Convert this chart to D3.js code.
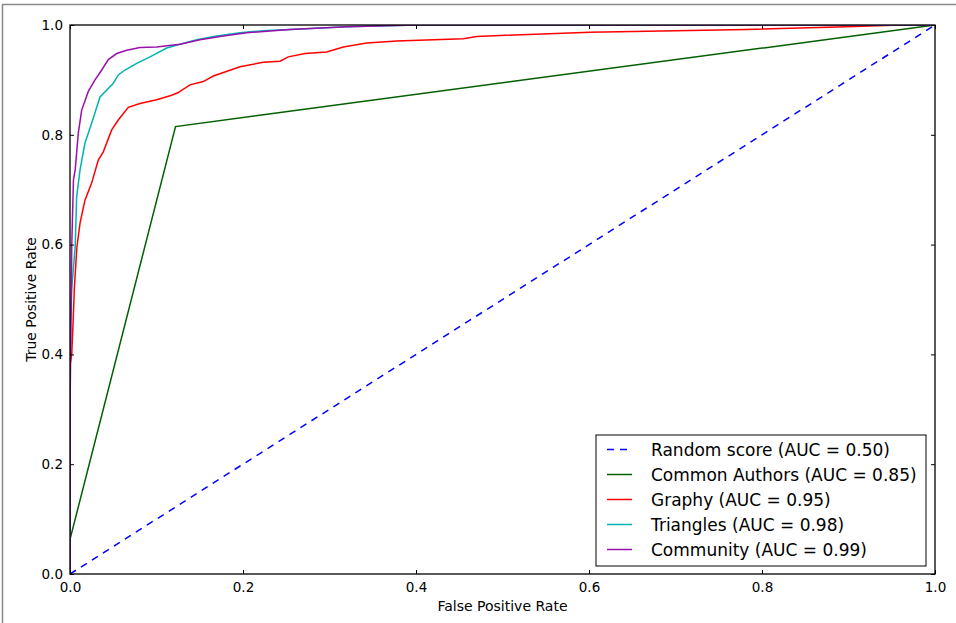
<!DOCTYPE html>
<html>
<head>
<meta charset="utf-8">
<script src="https://cdn.jsdelivr.net/npm/d3@7"></script>
<style>
  body { margin: 0; background: #fff; }
  svg { display: block; font-family: "DejaVu Sans", sans-serif; }
</style>
</head>
<body>
<div id="chart"></div>
<script>
// ROC curves, values
var randomFpr = [0, 1];
var randomTpr = [0, 1];

var authorsFpr = [0, 0, 0.122, 1];
var authorsTpr = [0, 0.063, 0.815, 1];

var graphyFpr = [0, 0, 0.002, 0.004, 0.005, 0.008, 0.0116, 0.0173, 0.025, 0.0327, 0.0385, 0.0482, 0.0558, 0.0674, 0.0809, 0.1002, 0.1176, 0.1252, 0.1387, 0.1541, 0.1657, 0.1965, 0.2235, 0.2428, 0.2524, 0.2717, 0.2968, 0.316, 0.343, 0.3777, 0.4547, 0.4702, 0.4971, 0.6012, 0.7823, 0.8979, 0.96, 1];
var graphyTpr = [0, 0.38, 0.40, 0.475, 0.52, 0.596, 0.639, 0.681, 0.712, 0.754, 0.769, 0.809, 0.827, 0.850, 0.857, 0.864, 0.872, 0.877, 0.891, 0.897, 0.907, 0.924, 0.932, 0.934, 0.942, 0.948, 0.951, 0.960, 0.967, 0.971, 0.975, 0.979, 0.981, 0.987, 0.992, 0.997, 1, 1];

var trianglesFpr = [0, 0, 0.002, 0.006, 0.0077, 0.0116, 0.0173, 0.025, 0.0347, 0.0501, 0.0558, 0.0636, 0.0771, 0.0925, 0.1118, 0.1272, 0.1465, 0.1696, 0.1965, 0.2274, 0.2543, 0.32, 0.4, 1];
var trianglesTpr = [0, 0.45, 0.52, 0.596, 0.687, 0.736, 0.785, 0.821, 0.869, 0.894, 0.909, 0.918, 0.930, 0.942, 0.958, 0.965, 0.973, 0.980, 0.986, 0.990, 0.992, 0.997, 1, 1];

var communityFpr = [0, 0, 0.0015, 0.002, 0.003, 0.004, 0.006, 0.0096, 0.0135, 0.0212, 0.0289, 0.0367, 0.0443, 0.054, 0.0656, 0.0809, 0.1002, 0.1272, 0.1503, 0.1773, 0.2043, 0.2543, 0.32, 0.4, 1];
var communityTpr = [0, 0.3, 0.5, 0.596, 0.657, 0.718, 0.736, 0.803, 0.845, 0.879, 0.900, 0.918, 0.937, 0.948, 0.954, 0.959, 0.960, 0.965, 0.973, 0.980, 0.986, 0.992, 0.997, 1, 1];

var seriesNames = ["Random score (AUC = 0.50)", "Common Authors (AUC = 0.85)", "Graphy (AUC = 0.95)", "Triangles (AUC = 0.98)", "Community (AUC = 0.99)"];
var seriesColors = ["#0000ff", "#005f00", "#ff0000", "#00b3b3", "#9a10ac"];
var tickValues = [0, 0.2, 0.4, 0.6, 0.8, 1.0];

var series = [
    {fpr: randomFpr, tpr: randomTpr, dash: "7,6"},
    {fpr: authorsFpr, tpr: authorsTpr},
    {fpr: graphyFpr, tpr: graphyTpr},
    {fpr: trianglesFpr, tpr: trianglesTpr},
    {fpr: communityFpr, tpr: communityTpr}
];
series.forEach(function(s, i){
    s.name = seriesNames[i];
    s.color = seriesColors[i];
    s.points = s.fpr.map(function(f, j){ return [f, s.tpr[j]]; });
});

var W = 956, H = 623;
var plotLeft = 70, plotRight = 935, plotTop = 25, plotBottom = 574;
var FONT = "'DejaVu Sans', sans-serif";

var x = d3.scaleLinear().domain([0, 1]).range([plotLeft, plotRight]);
var y = d3.scaleLinear().domain([0, 1]).range([plotBottom, plotTop]);

var svg = d3.select("#chart").append("svg")
    .attr("width", W)
    .attr("height", H);

// outer frame (only top and left show in the picture)
svg.append("path")
    .attr("d", "M2.5," + H + "V4.5H" + W)
    .attr("fill", "none")
    .attr("stroke", "#8a8a8a")
    .attr("stroke-width", 1.5);

svg.append("clipPath").attr("id", "plotclip")
  .append("rect")
    .attr("x", plotLeft).attr("y", plotTop)
    .attr("width", plotRight - plotLeft).attr("height", plotBottom - plotTop);

var line = d3.line()
    .x(function(d){ return x(d[0]); })
    .y(function(d){ return y(d[1]); });

svg.append("g")
    .attr("clip-path", "url(#plotclip)")
  .selectAll("path")
  .data(series)
  .enter().append("path")
    .attr("d", function(d){ return line(d.points); })
    .attr("fill", "none")
    .attr("stroke", function(d){ return d.color; })
    .attr("stroke-width", 1.5)
    .attr("stroke-dasharray", function(d){ return d.dash || null; });

// axes, ticks pointing inward on every side
function styleAxis(g){
    g.attr("font-family", FONT).attr("font-size", 13.5);
    g.select(".domain").remove();
    g.selectAll(".tick line").attr("stroke", "#000").attr("stroke-width", 1);
    g.selectAll(".tick text").attr("fill", "#000");
}

svg.append("g")
    .attr("transform", "translate(0," + plotBottom + ")")
    .call(d3.axisBottom(x).tickValues(tickValues).tickFormat(d3.format(".1f")).tickSizeInner(-4).tickSizeOuter(0).tickPadding(8))
    .call(styleAxis);

svg.append("g")
    .attr("transform", "translate(" + plotLeft + ",0)")
    .call(d3.axisLeft(y).tickValues(tickValues).tickFormat(d3.format(".1f")).tickSizeInner(-4).tickSizeOuter(0).tickPadding(7))
    .call(styleAxis);

svg.append("g")
    .attr("transform", "translate(0," + plotTop + ")")
    .call(d3.axisTop(x).tickValues(tickValues).tickFormat("").tickSizeInner(-4).tickSizeOuter(0))
    .call(styleAxis);

svg.append("g")
    .attr("transform", "translate(" + plotRight + ",0)")
    .call(d3.axisRight(y).tickValues(tickValues).tickFormat("").tickSizeInner(-4).tickSizeOuter(0))
    .call(styleAxis);

svg.append("rect")
    .attr("x", plotLeft).attr("y", plotTop)
    .attr("width", plotRight - plotLeft).attr("height", plotBottom - plotTop)
    .attr("fill", "none")
    .attr("stroke", "#000")
    .attr("stroke-width", 1.3);

svg.append("text")
    .attr("x", (plotLeft + plotRight) / 2)
    .attr("y", 611)
    .attr("text-anchor", "middle")
    .style("font-family", FONT)
    .style("font-size", "14px")
    .text("False Positive Rate");

svg.append("text")
    .attr("transform", "translate(36," + (plotTop + plotBottom) / 2 + ") rotate(-90)")
    .attr("text-anchor", "middle")
    .style("font-family", FONT)
    .style("font-size", "14px")
    .text("True Positive Rate");

// legend
var legend = svg.append("g").attr("transform", "translate(596,435)");
legend.append("rect")
    .attr("width", 330)
    .attr("height", 131)
    .attr("fill", "#fff")
    .attr("stroke", "#000")
    .attr("stroke-width", 1);

var item = legend.selectAll(".item")
    .data(series)
    .enter().append("g")
    .attr("class", "item")
    .attr("transform", function(d, i){ return "translate(0," + (14.5 + i * 25) + ")"; });

item.append("line")
    .attr("x1", 11).attr("x2", 36)
    .attr("stroke", function(d){ return d.color; })
    .attr("stroke-width", 1.5)
    .attr("stroke-dasharray", function(d){ return d.dash || null; });

item.append("text")
    .attr("x", 55)
    .attr("dy", "0.36em")
    .style("font-family", FONT)
    .style("font-size", "17px")
    .text(function(d){ return d.name; });
</script>
</body>
</html>
